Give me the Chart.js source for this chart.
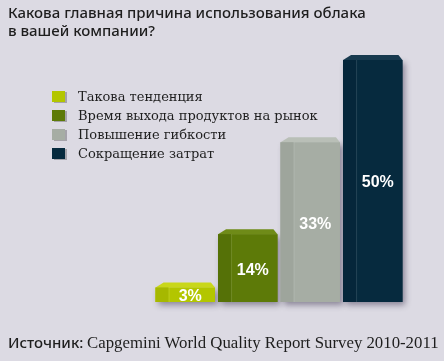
<!DOCTYPE html>
<html>
<head>
<meta charset="utf-8">
<script src="https://cdn.jsdelivr.net/npm/chart.js@4.4.1/dist/chart.umd.min.js"></script>
<style>
    html, body { margin: 0; padding: 0; }
    body { width: 444px; height: 361px; background: #dcdae3; position: relative; overflow: hidden; }
    #wrap { position: absolute; left: 0; top: 0; width: 444px; height: 361px; }
    .title { position: absolute; left: 8px; top: 3px; font-family: 'Noto Sans', sans-serif; font-weight: 500; font-size: 15px; line-height: 18px; color: #1e1e1e; }
    .source { position: absolute; left: 8px; top: 332px; font-size: 15px; color: #1e1e1e; white-space: nowrap; }
    .source b { font-family: 'Noto Sans', sans-serif; font-weight: 500; }
    .source span { font-family: 'Liberation Serif', serif; font-size: 16.8px; }
    #legenda { position: absolute; left: 52px; top: 88px; font-family: 'DejaVu Serif', serif; font-size: 13px; color: #1e1e1e; }
    #legenda div { height: 19px; line-height: 17px; white-space: nowrap; }
    #legenda i { display: inline-block; width: 13px; height: 11px; margin-right: 13px; vertical-align: -1px; box-shadow: 2px 1px 0 rgba(0,0,0,0.25); }
</style>
</head>
<body>
<div id="wrap"><canvas id="graficoBarras" width="444" height="361"></canvas></div>
<div class="title">Какова главная причина использования облака<br>в вашей компании?</div>
<div id="legenda"></div>
<div class="source"><b>Источник:</b> <span>Capgemini World Quality Report Survey 2010-2011</span></div>
<script>
const categorias = ['Такова тенденция', 'Время выхода продуктов на рынок', 'Повышение гибкости', 'Сокращение затрат'];
const valores = [3, 14, 33, 50];
const rotulos = ['3%', '14%', '33%', '50%'];

const cores = ['#b3c600', '#5d7a08', '#a6ada4', '#062a3e'];
const coresTopo = ['#c9d71a', '#6f8b18', '#b9bfb7', '#183a4f'];
const coresLado = ['#a6b800', '#557107', '#9ea59c', '#05263a'];

// shadow under the boxes
const sombra = {
    id: 'sombra',
    beforeDatasetsDraw(chart) {
        const ctx = chart.ctx;
        chart.data.datasets.forEach((ds, i) => {
            const bar = chart.getDatasetMeta(i).data[0];
            if (!bar) return;
            ctx.save();
            ctx.shadowColor = 'rgba(40,30,60,0.45)';
            ctx.shadowBlur = 6;
            ctx.shadowOffsetX = 3;
            ctx.shadowOffsetY = 3;
            ctx.fillStyle = cores[i];
            ctx.fillRect(bar.x - bar.width / 2, bar.y, bar.width, bar.base - bar.y);
            ctx.restore();
        });
    }
};

// 3D faces + value labels
const caixa3d = {
    id: 'caixa3d',
    afterDatasetsDraw(chart) {
        const ctx = chart.ctx;
        chart.data.datasets.forEach((ds, i) => {
            const bar = chart.getDatasetMeta(i).data[0];
            if (!bar) return;
            const left = bar.x - bar.width / 2;
            const right = bar.x + bar.width / 2;
            const top = bar.y;
            const bottom = bar.base;
            ctx.save();
            // top face
            ctx.fillStyle = coresTopo[i];
            ctx.beginPath();
            ctx.moveTo(left, top);
            ctx.lineTo(left + 8, top - 5);
            ctx.lineTo(right - 4, top - 5);
            ctx.lineTo(right, top);
            ctx.closePath();
            ctx.fill();
            // left side face
            ctx.fillStyle = coresLado[i];
            ctx.fillRect(left, top, 13, bottom - top);
            ctx.strokeStyle = 'rgba(255,255,255,0.12)';
            ctx.beginPath();
            ctx.moveTo(left + 13.5, top);
            ctx.lineTo(left + 13.5, bottom);
            ctx.stroke();
            // label
            ctx.fillStyle = '#ffffff';
            ctx.font = 'bold 16px "Liberation Sans", Arial, sans-serif';
            ctx.textAlign = 'center';
            ctx.textBaseline = 'middle';
            ctx.fillText(rotulos[i], bar.x + 5, (top + bottom) / 2 + 2);
            ctx.restore();
        });
    }
};

document.addEventListener('DOMContentLoaded', function() {
    const ctxBarras = document.getElementById('graficoBarras');
    const grafico = new Chart(ctxBarras, {
        type: 'bar',
        data: {
            labels: [''],
            datasets: categorias.map((nome, i) => ({
                label: nome,
                data: [valores[i]],
                backgroundColor: cores[i],
                borderWidth: 0
            }))
        },
        options: {
            responsive: false,
            animation: false,
            layout: {
                padding: { left: 154, right: 40, top: 60, bottom: 59 }
            },
            datasets: {
                bar: { categoryPercentage: 1, barPercentage: 0.95 }
            },
            plugins: {
                legend: { display: false },
                tooltip: { enabled: false }
            },
            scales: {
                x: { display: false },
                y: { display: false, min: 0, max: 50 }
            }
        },
        plugins: [sombra, caixa3d]
    });

    const legenda = document.getElementById('legenda');
    grafico.data.datasets.forEach(ds => {
        const linha = document.createElement('div');
        const quadro = document.createElement('i');
        quadro.style.background = ds.backgroundColor;
        linha.appendChild(quadro);
        linha.appendChild(document.createTextNode(ds.label));
        legenda.appendChild(linha);
    });
});
</script>
</body>
</html>
